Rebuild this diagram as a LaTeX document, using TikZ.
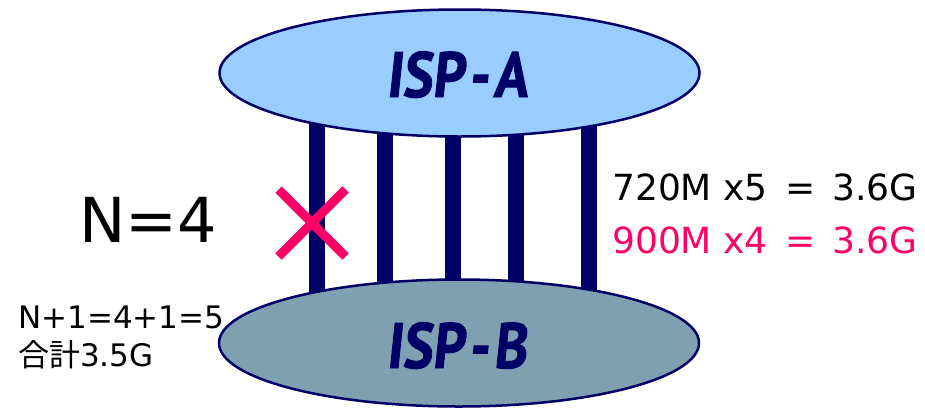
\documentclass[tikz,border=0pt]{standalone}
\usepackage{fontspec}
\usepackage{graphicx}
\setmainfont{DejaVu Sans}
\newfontfamily\cjk{Noto Sans CJK JP}
\newfontfamily\ispfont{PT Sans}[FakeSlant=0.12, BoldFeatures={FakeBold=1.5}]
\usetikzlibrary{shapes.geometric,shapes.misc}

\definecolor{linknavy}{HTML}{000066}
\definecolor{ispAfill}{HTML}{99CCFF}
\definecolor{ispBfill}{HTML}{7FA0B1}
\definecolor{cutpink}{HTML}{FF0066}

\newcommand{\ispname}[1]{\scalebox{0.88}[1]{ISP\kern5pt-\kern5pt#1}}

\begin{document}
\begin{tikzpicture}[
    x=1pt, y=-1pt,
    isp/.style={ellipse, draw=linknavy, line width=2.5pt, minimum width=480pt, minimum height=127pt, inner sep=0pt},
    ispname/.style={anchor=base west, inner sep=0pt, text=linknavy, font=\ispfont\bfseries\fontsize{64}{66}\selectfont},
    link/.style={draw=linknavy, line width=15.5pt},
    txt/.style={anchor=base west, inner sep=0pt}
]
\useasboundingbox (0,0) rectangle (925,407);

% the two providers
\coordinate (topc) at (459.5,73);
\coordinate (botc) at (459,343);

% five links between them
\foreach \x [count=\i] in {317,385,453,516,589}
    \coordinate (l\i) at (\x,0);
\foreach \i in {1,...,5}
    \draw[link] (topc -| l\i) -- (botc -| l\i);

\node[isp, fill=ispAfill] (ispA) at (topc) {};
\node[isp, fill=ispBfill] (ispB) at (botc) {};
\node[ispname] (nameA) at (386,97) {\ispname{A}};
\node[ispname] (nameB) at (386,368) {\ispname{B}};

% failed link
\node[cross out, draw=cutpink, line width=9pt, minimum size=58pt, inner sep=0pt] (cut) at (312,223) {};

% labels
\node[txt, font=\fontsize{62}{64}\selectfont] (n) at (79,242) {N=4};
\node[txt, font=\fontsize{36}{40}\selectfont] (bw1) at (612,200) {720M x5 \,=\, 3.6G};
\node[txt, font=\fontsize{36}{40}\selectfont, text=cutpink] (bw2) at (612,253) {900M x4 \,=\, 3.6G};
\node[txt, font=\fontsize{31}{33}\selectfont] (sum1) at (18,328) {N+1=4+1=5};
\node[txt, font=\fontsize{31}{33}\selectfont] (sum2) at (18,366) {{\cjk 合計}3.5G};
\end{tikzpicture}
\end{document}
